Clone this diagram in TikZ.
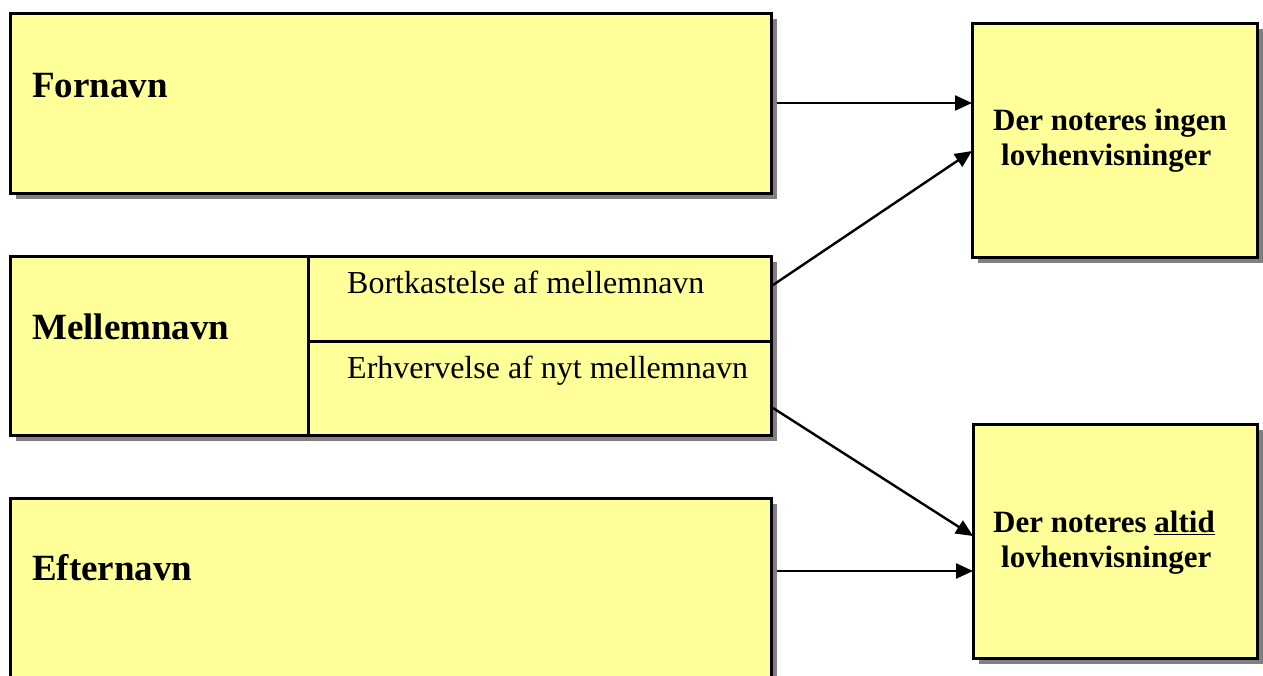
\documentclass[tikz,border=0pt]{standalone}
\usepackage{fontspec}
\setmainfont{Liberation Serif}
\usetikzlibrary{arrows.meta,shadows,calc}
\definecolor{boxyellow}{RGB}{255,255,153}
\definecolor{shadowgray}{RGB}{128,128,128}
\begin{document}
\begin{tikzpicture}[x=1pt,y=-1pt,
  box/.style={draw=black, line width=3pt, fill=boxyellow, rectangle, anchor=north west, inner sep=0pt, outer sep=0pt},
  shadowed/.style={drop shadow={shadow xshift=6pt, shadow yshift=-6pt, fill=shadowgray, opacity=1}},
  cell/.style={draw=black, line width=3pt, rectangle, anchor=north west, inner sep=0pt, outer sep=0pt},
  bigtxt/.style={anchor=base west, inner sep=0pt, font=\fontsize{37}{40}\selectfont\bfseries},
  midtxt/.style={anchor=base west, inner sep=0pt, font=\fontsize{32}{36}\selectfont},
  rtxt/.style={anchor=base west, inner sep=0pt, font=\fontsize{31}{34}\selectfont\bfseries},
  arr/.style={draw=black, line width=2.4pt, -{Triangle[length=17pt,width=15pt]}}
]
\useasboundingbox (0,0) rectangle (1263,675);

% left boxes
\node[box, shadowed, minimum width=761pt, minimum height=180pt] (forn) at (10,13) {};
\node[box, shadowed, minimum width=761pt, minimum height=179pt] (mell) at (10,256) {};
\node[cell, minimum width=463pt, minimum height=85pt] (bort) at (308,256) {};
\node[cell, minimum width=463pt, minimum height=94pt] (erh) at (308,341) {};
\node[box, shadowed, minimum width=761pt, minimum height=180pt] (eft) at (10,498) {};

% right boxes
\node[box, shadowed, minimum width=285pt, minimum height=234pt] (ingen) at (972,23) {};
\node[box, shadowed, minimum width=284pt, minimum height=234pt] (altid) at (973,424) {};

% texts
\node[bigtxt] (tforn) at (32,97) {Fornavn};
\node[bigtxt] (tmell) at (32,339) {Mellemnavn};
\node[bigtxt] (teft) at (32,580) {Efternavn};
\node[midtxt] (tbort) at (347,293) {Bortkastelse af mellemnavn};
\node[midtxt] (terh) at (347,378) {Erhvervelse af nyt mellemnavn};
\node[rtxt] (ting1) at (993,130) {Der noteres ingen};
\node[rtxt] (ting2) at (1001,165) {lovhenvisninger};
\node[rtxt] (talt1) at (993,532) {Der noteres \underline{altid}};
\node[rtxt] (talt2) at (1001,567) {lovhenvisninger};

% connectors
\coordinate (s1) at ($(forn.east)+(6,0)$);
\draw[arr] (s1) -- (ingen.west |- s1);
\coordinate (s2) at ($(bort.north east)+(2,29)$);
\draw[arr] (s2) -- ($(ingen.west)+(0,11)$);
\coordinate (s3) at ($(erh.north east)+(2,67)$);
\draw[arr] (s3) -- ($(altid.west)+(0,-5)$);
\coordinate (s4) at ($(eft.north east)+(6,73)$);
\draw[arr] (s4) -- (altid.west |- s4);
\end{tikzpicture}
\end{document}
